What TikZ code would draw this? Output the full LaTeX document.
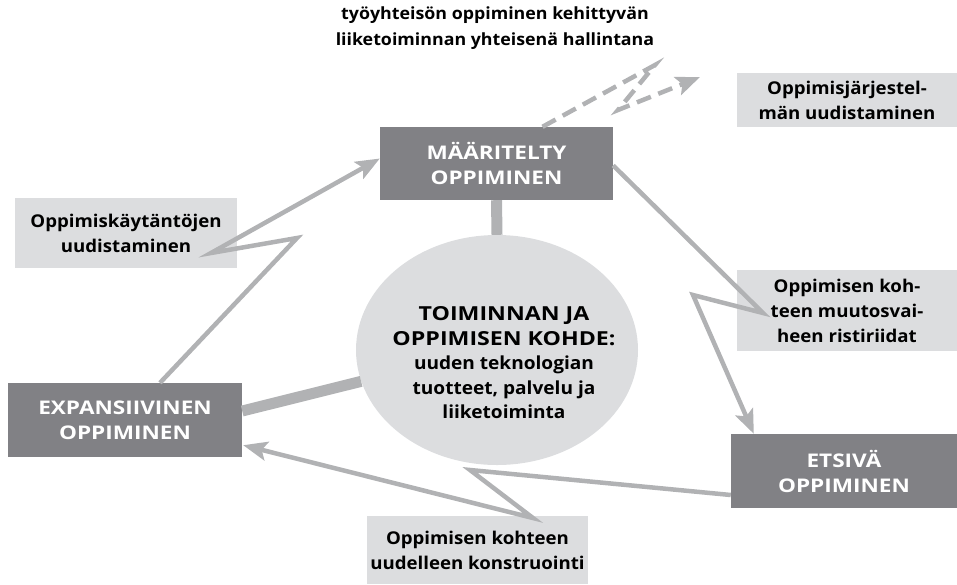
\documentclass[tikz,border=0pt]{standalone}
\usepackage{fontspec}
\setmainfont{Open Sans}[FakeStretch=1.06]
\newfontfamily\capsfont{Open Sans}[FakeStretch=1.2]
\usetikzlibrary{arrows.meta,shapes.geometric,calc}
\definecolor{darkbox}{HTML}{818185}
\definecolor{lightbox}{HTML}{DCDDDF}
\definecolor{arrowc}{HTML}{B1B2B4}
\begin{document}
\begin{tikzpicture}[x=1pt,y=-1pt,
  dbox/.style={fill=darkbox,text=white,font=\capsfont\bfseries\fontsize{18.8}{25}\selectfont,align=center,inner sep=0pt},
  lbox/.style={fill=lightbox,text=black,font=\bfseries\fontsize{17.6}{25}\selectfont,align=center,inner sep=0pt},
  conn/.style={draw=arrowc,line width=4.5pt,line join=miter},
  tip/.style={-{Stealth[length=24pt,width=19pt,inset=5pt]}},
  thickbar/.style={draw=arrowc,line width=11pt}]
\useasboundingbox (0,0) rectangle (957,584);

% central ellipse
\node[ellipse,fill=lightbox,minimum width=282,minimum height=230,inner sep=0pt] (ell) at (497,350) {};
\node[align=center,inner sep=0pt,font=\bfseries\fontsize{18}{24.5}\selectfont] (elltext) at (504,363)
  {{\capsfont\fontsize{19.3}{24.5}\selectfont TOIMINNAN JA}\\{\capsfont\fontsize{19.3}{24.5}\selectfont OPPIMISEN KOHDE:}\\uuden teknologian\\tuotteet, palvelu ja\\liiketoiminta};

% dark boxes
\node[dbox,minimum width=233,minimum height=73] (mar) at (496.5,163.5) {MÄÄRITELTY\\OPPIMINEN};
\node[dbox,minimum width=234,minimum height=74] (exp) at (125,420) {EXPANSIIVINEN\\OPPIMINEN};
\node[dbox,minimum width=226,minimum height=74] (ets) at (844,471) {ETSIVÄ\\OPPIMINEN};

% light boxes
\node[lbox,minimum width=222,minimum height=70] (kay) at (126,233) {Oppimiskäytäntöjen\\uudistaminen};
\node[lbox,minimum width=220,minimum height=54] (jar) at (847,100) {Oppimisjärjestel-\\män uudistaminen};
\node[lbox,minimum width=220,minimum height=81] (muu) at (847,310.5) {Oppimisen koh-\\teen muutosvai-\\heen ristiriidat};
\node[lbox,minimum width=221,minimum height=68] (kon) at (477.5,550) {Oppimisen kohteen\\uudelleen konstruointi};

% title
\node[font=\bfseries\fontsize{16.8}{26}\selectfont,align=center] (title) at (495,28)
  {työyhteisön oppiminen kehittyvän\\liiketoiminnan yhteisenä hallintana};

% thick bars to the object
\draw[thickbar] (mar.south) -- (ell.north);
\draw[thickbar] ($(exp.east)+(0,-9)$) -- (ell.193);

% zigzag corners
\coordinate (z1) at (297,238);
\coordinate (z2) at (211,253);
\coordinate (z3) at (763,313);
\coordinate (z4) at (693,295);
\coordinate (z5) at (470,470);
\coordinate (z6) at (533,518);
\coordinate (z7) at (655,65);
\coordinate (z8) at (618,110);
\coordinate (z9) at (700,77);

% cycle arrows
\draw[conn,tip] ($(exp.north)+(35,0)$) -- (z1) -- (z2) -- ($(mar.west)+(0,-5)$);
\draw[conn,tip] ($(mar.east)+(0,2)$) -- (z3) -- (z4) -- ($(ets.north west)+(23,0)$);
\draw[conn,tip] ($(ets.west)+(0,24)$) -- (z5) -- (z6) -- ($(exp.south east)+(1,-12)$);

% dashed arrow
\draw[conn,dash pattern=on 15pt off 8pt,tip] ($(mar.north)+(46,0)$) -- (z7) -- (z8) -- (z9);
\end{tikzpicture}
\end{document}
